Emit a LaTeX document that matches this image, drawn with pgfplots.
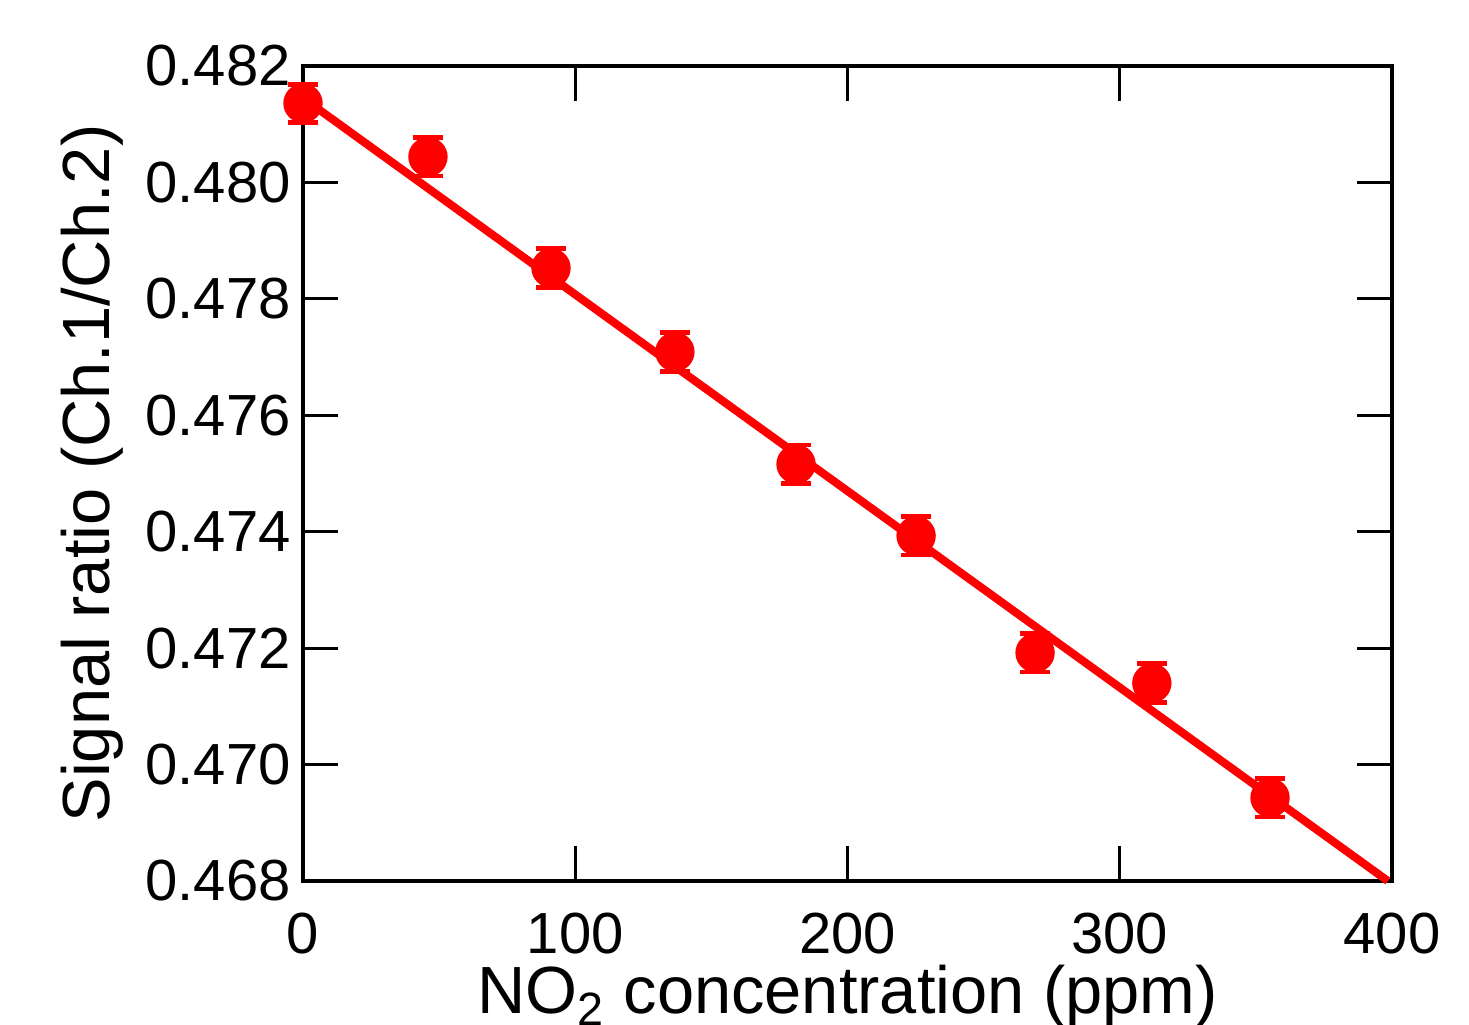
\documentclass[border=0pt]{standalone}
\usepackage{fontspec}
\setmainfont{Liberation Sans}
\usepackage{pgfplots}
\pgfplotsset{compat=1.18}
\definecolor{fitred}{RGB}{255,0,0}
\begin{document}
\begin{tikzpicture}
\begin{axis}[
    name=ax,
    scale only axis,
    width=10.89cm, height=8.15cm,
    xmin=0, xmax=400,
    ymin=0.468, ymax=0.482,
    xtick={0,100,200,300,400},
    ytick={0.468,0.470,0.472,0.474,0.476,0.478,0.480,0.482},
    tick align=inside,
    major tick length=0.35cm,
    minor tick num=0,
    axis line style={line width=0.9pt},
    every tick/.style={black, line width=0.9pt},
    scaled ticks=false,
    /pgf/number format/assume math mode=true,
    yticklabel style={/pgf/number format/.cd, fixed, fixed zerofill, precision=3},
    ticklabel style={font=\fontsize{16.5}{18}\selectfont},
    xticklabel style={yshift=-0.2cm},
    xlabel={NO\textsubscript{2} concentration (ppm)},
    ylabel={Signal ratio (Ch.1/Ch.2)},
    label style={font=\fontsize{19}{21}\selectfont},
    xlabel style={yshift=0.13cm},
    ylabel style={yshift=-0.02cm},
    clip=false,
]
% linear fit
\addplot[fitred, line width=2.3pt, no marks] coordinates {
    (0, 0.48145) (398.5, 0.468)
};
% measured points
\addplot[fitred, only marks, mark=*, mark size=5.4pt,
    mark options={fill=fitred, draw=fitred},
    error bars/.cd, y dir=both, y explicit,
    error bar style={fitred, line width=1.4pt},
    error mark options={rotate=90, mark size=4.2pt, line width=1.4pt, fitred}]
coordinates {
    (0,     0.48136) +- (0, 0.00033)
    (45.9,  0.48044) +- (0, 0.00033)
    (91.1,  0.47853) +- (0, 0.00033)
    (136.6, 0.47709) +- (0, 0.00033)
    (181.1, 0.47516) +- (0, 0.00033)
    (225.2, 0.47393) +- (0, 0.00033)
    (268.9, 0.47192) +- (0, 0.00033)
    (311.8, 0.47140) +- (0, 0.00033)
    (355.2, 0.46943) +- (0, 0.00033)
};
\end{axis}
\pgfresetboundingbox
\path ([shift={(-3.03cm,-1.44cm)}]ax.south west) rectangle ([shift={(11.66cm,8.81cm)}]ax.south west);
\end{tikzpicture}
\end{document}
